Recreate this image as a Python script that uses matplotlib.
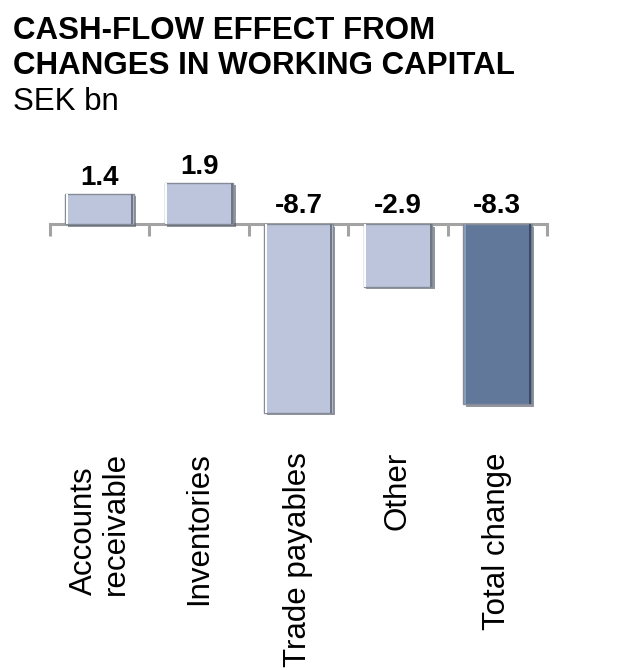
import matplotlib.pyplot as plt
import matplotlib.patheffects as pe
from matplotlib.transforms import blended_transform_factory, offset_copy

plt.rcParams['font.family'] = ['Liberation Sans', 'DejaVu Sans']

# data, SEK bn
categories = ["Accounts\nreceivable", "Inventories", "Trade payables", "Other", "Total change"]
values = [1.4, 1.9, -8.7, -2.9, -8.3]
bar_colors = ["#bcc5dc", "#bcc5dc", "#bcc5dc", "#bcc5dc", "#62789a"]
title_lines = ["CASH-FLOW EFFECT FROM", "CHANGES IN WORKING CAPITAL"]
unit = "SEK bn"

W, H = 623, 670
fig = plt.figure(figsize=(W / 100, H / 100), dpi=100)
fig.patch.set_facecolor("white")

# axes placed so that zero sits at y=224px, ~21.7 px per bn
ymin, ymax = -10, 3
zero_px, px_per = 224, 21.7
top_px = zero_px - ymax * px_per
bot_px = zero_px - ymin * px_per
ax = fig.add_axes([50 / W, (H - bot_px) / H, 497 / W, (bot_px - top_px) / H])
ax.set_xlim(-0.5, len(values) - 0.5)
ax.set_ylim(ymin, ymax)

x = list(range(len(values)))
bars = ax.bar(x, values, width=0.69, color=bar_colors, edgecolor="#858b97",
              linewidth=1.0, zorder=3)
for b in bars:
    b.set_path_effects([pe.SimplePatchShadow(offset=(1.8, -1.8), shadow_rgbFace="#3a4252", alpha=0.55),
                        pe.Normal()])

# bevel: light inner edge on the left, darker inner edge on the right
hi = offset_copy(ax.transData, fig=fig, x=1.6, y=0, units="dots")
lo = offset_copy(ax.transData, fig=fig, x=-1.6, y=0, units="dots")
for b, c in zip(bars, bar_colors):
    x0, x1 = b.get_x(), b.get_x() + b.get_width()
    y0, y1 = sorted([b.get_y(), b.get_y() + b.get_height()])
    light = "white" if c == "#bcc5dc" else "#8a9cba"
    dark = "#6e7584" if c == "#bcc5dc" else "#3b4a62"
    ax.plot([x0, x0], [y0, y1], color=light, lw=1.4, transform=hi, zorder=4, solid_capstyle="butt")
    ax.plot([x1, x1], [y0, y1], color=dark, lw=1.4, transform=lo, zorder=4, solid_capstyle="butt")

# axis line through zero with ticks between categories
for side in ["left", "right", "top"]:
    ax.spines[side].set_visible(False)
ax.spines["bottom"].set_position(("data", 0))
ax.spines["bottom"].set_color("#a3a3a3")
ax.spines["bottom"].set_linewidth(2.2)
ax.spines["bottom"].set_zorder(2)
ax.set_yticks([])
ax.set_xticks([i - 0.5 for i in range(len(values) + 1)])
ax.set_xticklabels([])
ax.tick_params(axis="x", direction="out", length=8.5, width=2.2, color="#a3a3a3")

# value labels
for xi, v in zip(x, values):
    base = v if v > 0 else 0
    ax.annotate(f"{v:.1f}", xy=(xi, base), xytext=(0, 6 if v > 0 else 8),
                textcoords="offset points", ha="center", va="baseline",
                fontsize=20, fontweight="bold", color="black")

# category labels, rotated, hanging from a common line
trans = blended_transform_factory(ax.transData, fig.transFigure)
for xi, cat in zip(x, categories):
    ax.text(xi, (H - 452) / H, cat, transform=trans, rotation=90,
            ha="center", va="top", multialignment="left",
            fontsize=22.5, linespacing=1.08, color="black")

fig.text(13 / W, (H - 39) / H, title_lines[0], fontsize=22.5, fontweight="bold", va="baseline")
fig.text(13 / W, (H - 74) / H, title_lines[1], fontsize=22.5, fontweight="bold", va="baseline")
fig.text(13 / W, (H - 110) / H, unit, fontsize=22.5, va="baseline")

fig.savefig("out.png", dpi=100, facecolor="white")
